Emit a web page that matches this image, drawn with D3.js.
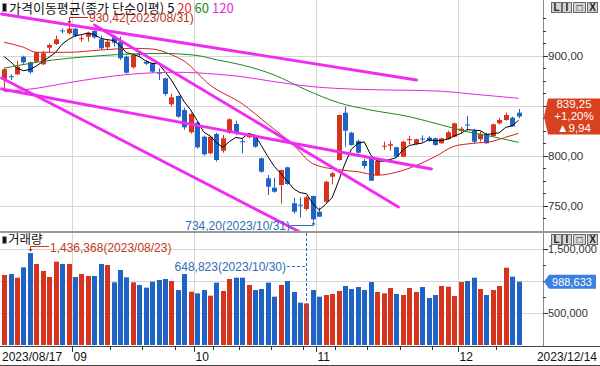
<!DOCTYPE html>
<html><head><meta charset="utf-8">
<script src="https://cdn.jsdelivr.net/npm/d3@7"></script>
<style>body{margin:0;background:#fff}svg{display:block}</style>
</head><body><svg id="c" width="600" height="366"></svg>
<script>
// ---------- DATA ----------
const dates = [
"2023-08-17","2023-08-18","2023-08-21","2023-08-22","2023-08-23","2023-08-24","2023-08-25","2023-08-28","2023-08-29","2023-08-30","2023-08-31",
"2023-09-01","2023-09-04","2023-09-05","2023-09-06","2023-09-07","2023-09-08","2023-09-11","2023-09-12","2023-09-13","2023-09-14","2023-09-15",
"2023-09-18","2023-09-19","2023-09-20","2023-09-21","2023-09-22","2023-09-25","2023-09-26","2023-09-27",
"2023-10-04","2023-10-05","2023-10-06","2023-10-10","2023-10-11","2023-10-12","2023-10-13","2023-10-16","2023-10-17","2023-10-18","2023-10-19","2023-10-20",
"2023-10-23","2023-10-24","2023-10-25","2023-10-26","2023-10-27","2023-10-30","2023-10-31",
"2023-11-01","2023-11-02","2023-11-03","2023-11-06","2023-11-07","2023-11-08","2023-11-09","2023-11-10","2023-11-13","2023-11-14","2023-11-15","2023-11-16","2023-11-17",
"2023-11-20","2023-11-21","2023-11-22","2023-11-23","2023-11-24","2023-11-27","2023-11-28","2023-11-29","2023-11-30",
"2023-12-01","2023-12-04","2023-12-05","2023-12-06","2023-12-07","2023-12-08","2023-12-11","2023-12-12","2023-12-13","2023-12-14"];
const open = [875.7,879.5,881.4,899,893.4,894,891.4,908,911.7,925.3,922.5,927,916.5,919,924.7,916.4,908.4,919,914,899,888.4,901.8,894,892.4,883,877.4,851.4,859.7,845.7,823.4,
833,819,802.4,821.7,805,823,831.7,814.4,818.4,819.7,797.4,777.4,768,770.7,788.4,752.4,751,746.7,759.7,
744,754,779,795.7,843,823,814.7,794.7,797.4,780.7,809,810,808.4,799,815.5,811.7,817.2,818,817.4,812.4,816.7,819,
825,831.2,825,816.4,821.7,819.7,832.4,835.7,838,843];
const high = [888,881.5,895,900,894,904,905,912.3,920,927.4,930.42,928,920.7,924,926,920,916,920.7,919,900,901.4,904,896,893,887.4,878,862,860,848,843,
834,820,820,823,820.7,837.4,835,817.4,823,821,798,780.7,778,786,789,758,758.4,760,760,
748,775,784,841,849,824,816,797,798,797,814,815,809,815,820,817,820.4,819.5,818,818,825,833,
829,839.7,827,824,823,832,838,843,839,846.7];
const low = [865.7,875.7,880.7,892,882,893,890.7,903,910.7,922.4,921,918.5,914,914,917,905.7,905.7,909,895.7,882,887,899,890.7,883,875.7,860,849,838,826,822,
807,800,801.4,794,803,822,820.7,802.4,817.4,808,783,760.7,763,752,771,742,738.4,745,734.2,
739,753,771.4,795,809,810,802,787,775,780,805.7,805,799,798.5,811.4,811,813.7,814,810,812,816,818.5,
822,825,812,814,812,819,831.4,835,829,837.4];
const close = [886.4,879,889,893.4,883.4,903.4,902.4,910.7,916.4,924.8,927,920,917.5,923,918.4,907.4,914,913,897.4,883,900.7,901.2,892,884,882,861.7,858.4,839,828.4,841.7,
808.4,801.4,819,795.7,817.4,836.4,823,813.4,820.7,809,784,769,764,785.7,771.7,744,750,758.4,736.4,
739,774,782.4,840.7,825,810.7,803,789.7,775,795,810,811.5,799,814,816.7,816.4,816.7,815,810.7,817.4,823.4,832.4,
827,830.7,814,821.7,812.4,831.4,835.7,840.7,829.31,839.25];
const volume = [1094000,1109000,1052000,1214000,1436368,1266000,1156000,1063000,1302000,1266000,1266000,1063000,1109000,1078000,1078000,1266000,1250000,979000,1172000,1057000,
979000,938000,896000,990000,1016000,1031000,1000000,859000,1109000,833000,807000,859000,771000,974000,844000,1031000,1052000,1052000,938000,859000,
875000,974000,755000,938000,1000000,828000,661000,648823,859000,755000,781000,797000,844000,922000,875000,906000,859000,984000,828000,807000,
890000,797000,781000,890000,828000,906000,734000,781000,922000,911000,766000,984000,1000000,1052000,875000,781000,859000,922000,1208000,1068000,988633];
const ma5 = [899,894,887.4,885,886.2,889.6,894.3,898.7,903.3,911.5,916.3,919.8,921.1,922.5,921.2,917.3,916.1,915.2,910.0,903.0,901.6,899.1,894.9,892.2,892.0,884.2,875.6,865.0,853.9,845.8,
835.2,823.8,819.8,813.2,808.4,814.0,818.3,817.2,822.2,820.5,810.0,799.2,789.3,782.3,774.9,766.9,763.1,762.0,752.1,745.6,751.6,758.0,774.5,792.2,806.6,812.4,813.8,800.7,794.7,794.5,
796.2,798.1,805.9,810.2,811.5,812.6,815.8,815.1,815.2,816.6,819.8,822.2,826.2,825.5,825.2,821.2,822.0,823.0,828.4,829.9,835.3];
const ma20Idx = [0,3,5,10,15,20,23,26,28,32,37,41,45,48,52,55,58,61,64,67,70,73,76,78,80];
const ma20 = [913.4,908.4,903.4,903.4,905.7,907.4,906.7,901.0,894.5,870.7,852.0,831.5,810.7,792.0,786.0,784.0,780.5,783.5,790.0,799.0,809.5,812.4,814.5,818.5,822.3];
const ma60Idx = [0,5,10,15,20,25,30,33,37,42,47,52,57,63,68,72,76,80];
const ma60 = [887.5,893.4,897.4,900.0,901.8,902.2,900.2,896.0,890.7,880.7,865.7,853.0,845.7,839.0,830.7,824.0,819.0,813.4];
const ma120Idx = [0,5,10,15,20,27,33,37,42,48,55,62,68,73,80];
const ma120 = [864.0,867.4,873.0,878.0,881.7,883.4,881.5,879.0,874.0,869.0,866.4,865.5,864.5,861.5,857.4];
// trend lines: start index/value, end index/value
const trendStartIdx = [-0.42, 14.04, -0.42, -0.42];
const trendStartVal = [941.7, 930.7, 866.7, 877.7];
const trendEndIdx   = [64.12, 61.32, 66.45, 46.5];
const trendEndVal   = [875.7, 748.7, 786.7, 722.0];
const priceTicks = [750, 800, 850, 900];
const priceMinorTicks = [737.5,750,762.5,775,787.5,800,812.5,825,837.5,850,862.5,875,887.5,900,912.5,925,937.5];
const volTicks = [500000, 1000000, 1500000];
const volMinorTicks = [500000, 750000, 1000000, 1250000, 1500000];
const maPeriods = ["5","20","60","120"];

// ---------- LAYOUT ----------
const svg = d3.select("#c");
const PR = 543, P_BOT = 232, V_BOT = 345, AX_Y = 346;
const N = close.length;
const RED = "#d6341c", BLUE = "#1f63c6";
const x = d3.scaleLinear().domain([0, N - 1]).range([4.2, 518.6]);
const step = (x(N - 1) - x(0)) / (N - 1);
const y = d3.scaleLinear().domain([750, 900]).range([205.7, 55.7]);
const yv = d3.scaleLinear().domain([0, 1500000]).range([V_BOT, 249]);
const NUMF = "'Liberation Sans', Arial, sans-serif";
const KRF = "'Noto Sans CJK KR', 'Noto Sans', sans-serif";
const fmt2 = v => v.toFixed(2).replace(".", ",");
const fmtInt = d3.format(",");
const parse = d3.timeParse("%Y-%m-%d");
const dts = dates.map(parse);
const dstr = d3.timeFormat("%Y/%m/%d");

const monthStarts = [], weekStarts = [];
dts.forEach((d, i) => {
  if (i === 0) return;
  if (d.getMonth() !== dts[i - 1].getMonth()) monthStarts.push(i);
  else if (+d3.timeMonday.floor(d) !== +d3.timeMonday.floor(dts[i - 1])) weekStarts.push(i);
});
const weekTicks = weekStarts.filter(i => i > monthStarts[0] && !monthStarts.some(m => Math.abs(m - i) <= 1));
const edge = i => Math.round(x(i) - step / 2) + 0.5;

// current values (boxes on the axes)
const last = close[N - 1], prev = close[N - 2], chg = last - prev;
const cy = y(last);
const cvy = yv(volume[N - 1]);

// ---------- GRID ----------
const grid = svg.append("g").attr("stroke", "#d6d6d6").attr("stroke-width", 1);
priceTicks.forEach(v => grid.append("line").attr("x1", 0).attr("x2", PR).attr("y1", Math.round(y(v)) + 0.5).attr("y2", Math.round(y(v)) + 0.5));
volTicks.forEach(v => grid.append("line").attr("x1", 0).attr("x2", PR).attr("y1", Math.round(yv(v)) + 0.5).attr("y2", Math.round(yv(v)) + 0.5));
monthStarts.forEach(i => grid.append("line").attr("x1", edge(i)).attr("x2", edge(i)).attr("y1", 0).attr("y2", V_BOT));

// ---------- PRICE PANEL ----------
svg.append("clipPath").attr("id", "pc").append("rect").attr("x", 0).attr("y", 0).attr("width", PR).attr("height", P_BOT);
const pg = svg.append("g").attr("clip-path", "url(#pc)");
const col = i => close[i] >= open[i] ? RED : BLUE;
d3.range(N).forEach(i => {
  const xc = Math.round(x(i));
  pg.append("line").attr("x1", xc + 0.5).attr("x2", xc + 0.5).attr("y1", y(high[i])).attr("y2", y(low[i])).attr("stroke", col(i));
  const t = y(Math.max(open[i], close[i])), b = y(Math.min(open[i], close[i]));
  pg.append("rect").attr("x", xc - 2).attr("width", 5).attr("y", t).attr("height", Math.max(1, b - t)).attr("fill", col(i));
});
const lineIdx = d3.line().x(d => x(d[0])).y(d => y(d[1]));
pg.append("path").attr("d", lineIdx(ma5.map((v, i) => [i, v]))).attr("fill", "none").attr("stroke", "#000").attr("stroke-width", 1);
const smooth = d3.line().x(d => x(d[0])).y(d => y(d[1])).curve(d3.curveMonotoneX);
[[ma20Idx, ma20, "#d42020"], [ma60Idx, ma60, "#1a8a1a"], [ma120Idx, ma120, "#e02ae0"]].forEach(([ix, vs, c]) => {
  pg.append("path").attr("d", smooth(ix.map((k, j) => [k, vs[j]]))).attr("fill", "none").attr("stroke", c).attr("stroke-width", 1);
});
trendStartIdx.forEach((s, k) => {
  pg.append("line").attr("x1", x(s)).attr("y1", y(trendStartVal[k])).attr("x2", x(trendEndIdx[k])).attr("y2", y(trendEndVal[k]))
    .attr("stroke", "#f02cf0").attr("stroke-width", 2.8).attr("stroke-linecap", "round");
});

// legend (drawn before the max label, which sits over it as in the reference)
svg.append("rect").attr("x", 2.5).attr("y", 3.5).attr("width", 4).attr("height", 8).attr("fill", "#111").attr("stroke", "#999");
const lg = svg.append("text").attr("x", 9).attr("y", 13).attr("font-family", KRF).attr("font-size", 13);
lg.append("tspan").attr("fill", "#111").text("가격이동평균(종가 단순이평) " + maPeriods[0]);
[["#e03030", maPeriods[1]], ["#1a8a1a", maPeriods[2]], ["#e02ae0", maPeriods[3]]].forEach(([c, t]) => lg.append("tspan").attr("fill", c).text(" " + t));

// price annotations
const hiIdx = d3.maxIndex(high), loIdx = d3.minIndex(low);
const hx = Math.round(x(hiIdx)) + 0.5;
svg.append("path").attr("d", `M88,17.5H${hx}V22`).attr("fill", "none").attr("stroke", "#b8321e");
svg.append("path").attr("d", `M${hx - 2},21L${hx + 2},21L${hx},24Z`).attr("fill", "#b8321e");
svg.append("text").attr("x", 89).attr("y", 21.5).attr("font-family", NUMF).attr("font-size", 12).attr("fill", "#b8321e")
  .text(`${fmt2(high[hiIdx])}(${dstr(dts[hiIdx])})`);
const lx = Math.round(x(loIdx)) + 0.5;
svg.append("path").attr("d", `M291,225.5H${lx}V${y(low[loIdx]) + 1.5}`).attr("fill", "none").attr("stroke", "#2f6db5");
svg.append("path").attr("d", `M${lx - 2},${y(low[loIdx]) + 3}L${lx + 2},${y(low[loIdx]) + 3}L${lx},${y(low[loIdx])}Z`).attr("fill", "#2f6db5");
svg.append("text").attr("x", 290).attr("y", 229.5).attr("text-anchor", "end").attr("font-family", NUMF).attr("font-size", 12).attr("fill", "#2f6db5")
  .text(`${fmt2(low[loIdx])}(${dstr(dts[loIdx])})`);

// ---------- VOLUME PANEL ----------
d3.range(N).forEach(i => {
  const xc = Math.round(x(i));
  svg.append("rect").attr("x", xc - 2).attr("width", 5).attr("y", yv(volume[i])).attr("height", V_BOT - yv(volume[i])).attr("fill", col(i));
});
const vmax = d3.maxIndex(volume), vmin = d3.minIndex(volume);
const vx = Math.round(x(vmax)) + 0.5;
svg.append("path").attr("d", `M49,246.5H${vx}V250`).attr("fill", "none").attr("stroke", "#c23a20");
svg.append("path").attr("d", `M${vx - 2},249L${vx + 2},249L${vx},252Z`).attr("fill", "#c23a20");
svg.append("text").attr("x", 50).attr("y", 251.5).attr("font-family", NUMF).attr("font-size", 12).attr("fill", "#c23a20")
  .text(`${fmtInt(volume[vmax])}(${dstr(dts[vmax])})`);
const mx = Math.round(x(vmin)) + 0.5;
svg.append("path").attr("d", `M287,266.5H${mx}`).attr("stroke", "#2f6db5").attr("stroke-dasharray", "3,2");
svg.append("line").attr("x1", mx).attr("x2", mx).attr("y1", 233).attr("y2", V_BOT).attr("stroke", "#2f6db5").attr("stroke-dasharray", "3,2");
svg.append("text").attr("x", 286).attr("y", 270.5).attr("text-anchor", "end").attr("font-family", NUMF).attr("font-size", 12).attr("fill", "#2f6db5")
  .text(`${fmtInt(volume[vmin])}(${dstr(dts[vmin])})`);
svg.append("rect").attr("x", 2.5).attr("y", 236.5).attr("width", 4).attr("height", 7).attr("fill", "#111").attr("stroke", "#999");
svg.append("text").attr("x", 8).attr("y", 244).attr("font-family", KRF).attr("font-size", 12.5).attr("fill", "#111").text("거래량");

// ---------- FRAME / AXES ----------
svg.append("line").attr("x1", PR + 0.5).attr("x2", PR + 0.5).attr("y1", 0).attr("y2", AX_Y).attr("stroke", "#8a8a8a");
svg.append("rect").attr("x", 0).attr("y", 231).attr("width", 600).attr("height", 2).attr("fill", "#9a9a9a");
svg.append("line").attr("x1", 0).attr("x2", 600).attr("y1", AX_Y + 0.5).attr("y2", AX_Y + 0.5).attr("stroke", "#444");
svg.append("line").attr("x1", 0).attr("x2", 600).attr("y1", 365.5).attr("y2", 365.5).attr("stroke", "#444");

// price axis (labels hidden behind the current-value box are skipped, as in the reference)
priceMinorTicks.forEach(v => svg.append("line").attr("x1", PR).attr("x2", PR + (priceTicks.includes(v) ? 5 : 3))
  .attr("y1", Math.round(y(v)) + 0.5).attr("y2", Math.round(y(v)) + 0.5).attr("stroke", "#333"));
priceTicks.filter(v => Math.abs(y(v) - cy) > 24).forEach(v => svg.append("text").attr("x", 548).attr("y", y(v) + 4)
  .attr("font-family", NUMF).attr("font-size", 11.5).attr("fill", "#333").text(fmt2(v)));
// volume axis
volMinorTicks.forEach(v => svg.append("line").attr("x1", PR).attr("x2", PR + (volTicks.includes(v) ? 5 : 3))
  .attr("y1", Math.round(yv(v)) + 0.5).attr("y2", Math.round(yv(v)) + 0.5).attr("stroke", "#333"));
volTicks.filter(v => Math.abs(yv(v) - cvy) > 12).forEach(v => svg.append("text").attr("x", 548).attr("y", yv(v) + 4)
  .attr("font-family", NUMF).attr("font-size", 11).attr("fill", "#333").text(fmtInt(v)));

// current price box
svg.append("path").attr("d", `M544,${cy}L548,${cy - 18}H600V${cy + 18}H548Z`).attr("fill", "#d8401e");
[fmt2(last), "+" + (chg / prev * 100).toFixed(2).replace(".", ",") + "%", "▲" + fmt2(chg)].forEach((t, k) =>
  svg.append("text").attr("x", 574).attr("y", cy - 8 + k * 12).attr("text-anchor", "middle").attr("font-family", NUMF)
    .attr("font-size", 11.5).attr("fill", "#fff").text(t));
// current volume box
svg.append("path").attr("d", `M544,${cvy}L549,${cvy - 7}H596V${cvy + 7}H549Z`).attr("fill", "#3b7fe0");
svg.append("text").attr("x", 572).attr("y", cvy + 4).attr("text-anchor", "middle").attr("font-family", NUMF).attr("font-size", 11).attr("fill", "#fff").text(fmtInt(volume[N - 1]));

// x axis
monthStarts.forEach(i => svg.append("line").attr("x1", edge(i)).attr("x2", edge(i)).attr("y1", AX_Y).attr("y2", AX_Y + 6).attr("stroke", "#333"));
weekTicks.forEach(i => svg.append("line").attr("x1", edge(i)).attr("x2", edge(i)).attr("y1", AX_Y).attr("y2", AX_Y + 4).attr("stroke", "#333"));
const xt = svg.append("g").attr("font-family", NUMF).attr("font-size", 12).attr("fill", "#111");
xt.append("text").attr("x", 2).attr("y", 361).text(dstr(dts[0]));
monthStarts.forEach(i => xt.append("text").attr("x", edge(i) + 1).attr("y", 361).text(d3.timeFormat("%m")(dts[i])));
xt.append("text").attr("x", 597).attr("y", 361).attr("text-anchor", "end").text(dstr(dts[N - 1]));

// window buttons
function buttons(y0) {
  [[551, 11, "L"], [562, 10, "I"], [573, 13, "□"], [587, 11, "X"]].forEach(([bx, bw, t]) => {
    svg.append("rect").attr("x", bx + 0.5).attr("y", y0 + 0.5).attr("width", bw - 1).attr("height", 10).attr("fill", "#d4d4d4").attr("stroke", "#6a6a6a");
    svg.append("text").attr("x", bx + bw / 2).attr("y", y0 + 9).attr("text-anchor", "middle").attr("font-family", NUMF)
      .attr("font-size", 10).attr("font-weight", "bold").attr("fill", "#222").text(t);
  });
}
buttons(2); buttons(234);
</script></body></html>
